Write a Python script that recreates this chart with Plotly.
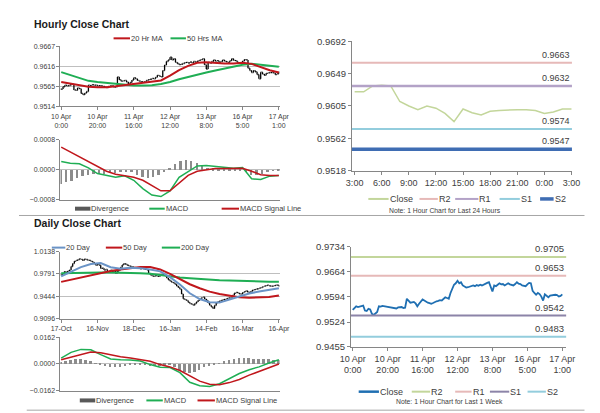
import plotly.graph_objects as go

W, H = 600, 413
FONT = "Liberation Sans, Arial, sans-serif"

# ---- hourly data: 10 Apr 0:00 -> 17 Apr 1:00 (one value per hour) ----
hourly_close = [
    0.9558, 0.9564, 0.9568, 0.9566, 0.9567, 0.9569, 0.9570, 0.9556, 0.9555, 0.9561,
    0.9559, 0.9547, 0.9544, 0.9548, 0.9552, 0.9568, 0.9567, 0.9569, 0.9568, 0.9568,
    0.9566, 0.9567, 0.9566, 0.9565, 0.9563, 0.9562, 0.9565, 0.9566, 0.9566, 0.9563,
    0.9564, 0.9589, 0.9582, 0.9578, 0.9579, 0.9580, 0.9576, 0.9568, 0.9575, 0.9581,
    0.9587, 0.9584, 0.9580, 0.9578, 0.9577, 0.9575, 0.9577, 0.9580, 0.9582, 0.9583,
    0.9585, 0.9584, 0.9588, 0.9593, 0.9591, 0.9589, 0.9605, 0.9619, 0.9628, 0.9632,
    0.9639, 0.9632, 0.9635, 0.9626, 0.9623, 0.9620, 0.9621, 0.9623, 0.9625, 0.9626,
    0.9624, 0.9627, 0.9625, 0.9628, 0.9626, 0.9629, 0.9631, 0.9633, 0.9635, 0.9620,
    0.9609, 0.9626, 0.9624, 0.9628, 0.9632, 0.9629, 0.9630, 0.9626, 0.9628, 0.9632,
    0.9629, 0.9627, 0.9626, 0.9630, 0.9635, 0.9631, 0.9630, 0.9626, 0.9624, 0.9624,
    0.9629, 0.9633, 0.9632, 0.9611, 0.9605, 0.9600, 0.9605, 0.9602, 0.9595, 0.9584,
    0.9601, 0.9596, 0.9593, 0.9598, 0.9599, 0.9600, 0.9600, 0.9599, 0.9595, 0.9597,
    0.9601,
]
hourly_ticks = ["10 Apr<br>0:00", "10 Apr<br>20:00", "11 Apr<br>16:00", "12 Apr<br>12:00",
                "13 Apr<br>8:00", "16 Apr<br>5:00", "17 Apr<br>1:00"]

# moving averages / MACD read every 5 hours
ma20_h = [0.9576, 0.9572, 0.9568, 0.9564, 0.9563, 0.9563, 0.9565, 0.9568, 0.9572, 0.9574,
          0.9577, 0.9580, 0.9592, 0.9606, 0.9617, 0.9625, 0.9626, 0.9624, 0.9623, 0.9623,
          0.9625, 0.9622, 0.9613, 0.9606, 0.9600]
ma50_h = [0.9601, 0.9594, 0.9587, 0.9579, 0.9576, 0.9574, 0.9571, 0.9569, 0.9567, 0.9567,
          0.9568, 0.9571, 0.9576, 0.9583, 0.9589, 0.9595, 0.9600, 0.9605, 0.9610, 0.9615,
          0.9620, 0.9622, 0.9620, 0.9618, 0.9615]
macd_h = [0.00022, 0.00017, 0.00016, 0.00005, -0.00010, -0.00015, -0.00020, -0.00016, -0.00028,
          -0.00050, -0.00067, -0.00071, -0.00056, -0.00020, -0.00006, 0.00010, 0.00011, 0.00008,
          0.00005, 0.00004, 0.00006, -0.00024, -0.00026, -0.00017, -0.00015]
signal_h = [0.00060, 0.00047, 0.00035, 0.00022, 0.00010, -0.00004, -0.00012, -0.00016, -0.00020,
            -0.00028, -0.00043, -0.00056, -0.00056, -0.00036, -0.00015, -0.00004, 0.00000, 0.00003,
            0.00003, 0.00003, 0.00004, -0.00004, -0.00013, -0.00015, -0.00015]
# divergence read every 3 hours
div_h = [-0.00036, -0.00032, -0.00028, -0.00022, -0.00016, -0.00012, -0.00010, -0.00010, -0.00009,
         -0.00008, -0.00008, -0.00006, -0.00004, -0.00006, -0.00012, -0.00018, -0.00020, -0.00018,
         -0.00014, -0.00006, 0.00006, 0.00016, 0.00024, 0.00026, 0.00024, 0.00018, 0.00010,
         0.00006, 0.00005, 0.00004, 0.00003, 0.00001, 0.00001, 0.00002, -0.00006, -0.00014,
         -0.00014, -0.00010, -0.00006, -0.00002, 0.00001]

# ---- last 24 hours ----
hours_24 = ["3:00", "4:00", "5:00", "6:00", "7:00", "8:00", "9:00", "10:00", "11:00", "12:00",
            "13:00", "14:00", "15:00", "16:00", "17:00", "18:00", "19:00", "20:00", "21:00",
            "22:00", "23:00", "0:00", "1:00", "2:00", "3:00"]
close_24 = [0.9624, 0.9624, 0.9632, 0.9633, 0.9632, 0.9611, 0.9605, 0.9600, 0.9605, 0.9602,
            0.9595, 0.9584, 0.9601, 0.9596, 0.9593, 0.9598, 0.9599, 0.9600, 0.9600, 0.9600,
            0.9599, 0.9595, 0.9597, 0.9601, 0.9601]
levels_24 = {"R2": 0.9663, "R1": 0.9632, "S1": 0.9574, "S2": 0.9547}
levels_week = {"R2": 0.9705, "R1": 0.9653, "S1": 0.9542, "S2": 0.9483}

# ---- daily data: 17-Oct -> 16-Apr (trading days) ----
daily_close = [
    0.9776, 0.9790, 0.9826, 0.9810, 0.9835, 0.9850, 0.9905, 0.9950, 0.9985, 0.9999,
    1.0010, 1.0024, 1.0015, 0.9999, 1.0020, 1.0014, 1.0005, 0.9999, 0.9985, 0.9974,
    0.9950, 0.9925, 0.9940, 0.9925, 0.9875, 0.9880, 0.9850, 0.9860, 0.9826, 0.9835,
    0.9850, 0.9820, 0.9840, 0.9801, 0.9830, 0.9850, 0.9890, 0.9930, 0.9950, 0.9940,
    0.9925, 0.9915, 0.9905, 0.9900, 0.9890, 0.9880, 0.9875, 0.9885, 0.9870, 0.9875,
    0.9865, 0.9860, 0.9850, 0.9800, 0.9776, 0.9760, 0.9751, 0.9765, 0.9755, 0.9751,
    0.9770, 0.9780, 0.9776, 0.9760, 0.9727, 0.9700, 0.9677, 0.9660, 0.9652, 0.9630,
    0.9603, 0.9580, 0.9553, 0.9480, 0.9404, 0.9390, 0.9379, 0.9350, 0.9330, 0.9320,
    0.9305, 0.9330, 0.9355, 0.9380, 0.9404, 0.9420, 0.9429, 0.9400, 0.9379, 0.9340,
    0.9305, 0.9280, 0.9255, 0.9300, 0.9340, 0.9360, 0.9370, 0.9379, 0.9390, 0.9395,
    0.9404, 0.9415, 0.9420, 0.9429, 0.9460, 0.9490, 0.9503, 0.9495, 0.9480, 0.9479,
    0.9500, 0.9515, 0.9528, 0.9510, 0.9503, 0.9520, 0.9540, 0.9545, 0.9553, 0.9560,
    0.9570, 0.9578, 0.9590, 0.9600, 0.9610, 0.9617, 0.9605, 0.9600, 0.9602, 0.9610,
    0.9615, 0.9617, 0.9600,
]
daily_ticks = ["17-Oct", "16-Nov", "18-Dec", "16-Jan", "14-Feb", "16-Mar", "16-Apr"]

# read every 6 trading days
ma20_d = [0.9751, 0.9825, 0.9895, 0.9945, 0.9960, 0.9895, 0.9872, 0.9885, 0.9880, 0.9860,
          0.9830, 0.9740, 0.9625, 0.9490, 0.9400, 0.9350, 0.9345, 0.9392, 0.9439, 0.9485,
          0.9518, 0.9545, 0.9568]
ma50_d = [0.9667, 0.9702, 0.9740, 0.9775, 0.9805, 0.9836, 0.9860, 0.9882, 0.9898, 0.9898,
          0.9860, 0.9790, 0.9705, 0.9630, 0.9568, 0.9515, 0.9478, 0.9450, 0.9429, 0.9420,
          0.9422, 0.9432, 0.9454]
ma200_d = [0.9801, 0.9806, 0.9810, 0.9812, 0.9812, 0.9811, 0.9810, 0.9806, 0.9800, 0.9794,
           0.9772, 0.9755, 0.9736, 0.9723, 0.9711, 0.9700, 0.9692, 0.9687, 0.9680, 0.9676,
           0.9672, 0.9669, 0.9667]
macd_d = [0.0035, 0.0070, 0.0088, 0.0086, 0.0056, 0.0030, 0.0025, 0.0024, 0.0018, -0.0004,
          -0.0020, -0.0022, -0.0053, -0.0111, -0.0132, -0.0137, -0.0120, -0.0088, -0.0058,
          -0.0035, -0.0018, 0.0006, 0.0025]
signal_d = [0.0025, 0.0040, 0.0055, 0.0072, 0.0068, 0.0055, 0.0044, 0.0036, 0.0028, 0.0016,
            -0.0004, -0.0018, -0.0040, -0.0072, -0.0104, -0.0123, -0.0126, -0.0113, -0.0094,
            -0.0068, -0.0046, -0.0023, 0.0000]
# divergence read every 3 trading days
div_d = [0.0010, 0.0018, 0.0025, 0.0028, 0.0028, 0.0022, 0.0014, 0.0004, -0.0008, -0.0016,
         -0.0020, -0.0020, -0.0018, -0.0014, -0.0010, -0.0009, -0.0008, -0.0010, -0.0014,
         -0.0016, -0.0012, -0.0008, -0.0010, -0.0022, -0.0036, -0.0048, -0.0056, -0.0050,
         -0.0036, -0.0022, -0.0012, -0.0006, 0.0004, 0.0014, 0.0022, 0.0028, 0.0032, 0.0034,
         0.0033, 0.0030, 0.0028, 0.0027, 0.0026, 0.0025, 0.0024]

# y tick labels
y_hourly = [0.9514, 0.9565, 0.9616, 0.9667]
y_macd_h = [-0.0008, 0.0, 0.0008]
y_24 = [0.9518, 0.95615, 0.9605, 0.96485, 0.9692]
y_24_text = ["0.9518", "0.9562", "0.9605", "0.9649", "0.9692"]
y_daily = [0.9096, 0.9444, 0.9791, 1.0138]
y_macd_d = [-0.0162, 0.0, 0.0162]
y_week = [0.9455, 0.9524, 0.9594, 0.9664, 0.9734]


def px(x):
    return x / W


def py(y):
    return 1 - y / H


h_idx = list(range(len(hourly_close)))
h_idx5 = list(range(0, len(hourly_close), 5))
h_idx3 = list(range(0, len(hourly_close), 3))
d_idx = list(range(len(daily_close)))
d_idx6 = list(range(0, len(daily_close), 6))
d_idx3 = list(range(0, len(daily_close), 3))
idx_24 = list(range(len(close_24)))

RED, GREEN, BLUE_MA = "#C0171C", "#1FAE54", "#6A93C6"

fig = go.Figure()

# hourly candles + MAs
h_open = [hourly_close[0]] + hourly_close[:-1]
fig.add_trace(go.Ohlc(x=h_idx, open=h_open, close=hourly_close,
                      high=[max(o, c) for o, c in zip(h_open, hourly_close)],
                      low=[min(o, c) for o, c in zip(h_open, hourly_close)],
                      increasing_line_color="black", decreasing_line_color="black",
                      line_width=1.3, tickwidth=0.4, xaxis="x", yaxis="y"))
fig.add_trace(go.Scatter(x=h_idx5, y=ma50_h, mode="lines", line=dict(color=GREEN, width=2),
                         xaxis="x", yaxis="y"))
fig.add_trace(go.Scatter(x=h_idx5, y=ma20_h, mode="lines", line=dict(color=RED, width=2),
                         xaxis="x", yaxis="y"))

# hourly MACD
fig.add_trace(go.Bar(x=h_idx3, y=div_h, width=1.3, marker_color="#8C8C8C", marker_line_width=0,
                     xaxis="x2", yaxis="y2"))
fig.add_trace(go.Scatter(x=h_idx5, y=macd_h, mode="lines", line=dict(color=GREEN, width=1.5),
                         xaxis="x2", yaxis="y2"))
fig.add_trace(go.Scatter(x=h_idx5, y=signal_h, mode="lines", line=dict(color=RED, width=1.5),
                         xaxis="x2", yaxis="y2"))

# last 24 hours
fig.add_trace(go.Scatter(x=idx_24, y=close_24, mode="lines", line=dict(color="#C3D69B", width=1.5),
                         xaxis="x3", yaxis="y3"))

# daily candles + MAs
d_open = [daily_close[0]] + daily_close[:-1]
fig.add_trace(go.Ohlc(x=d_idx, open=d_open, close=daily_close,
                      high=[max(o, c) for o, c in zip(d_open, daily_close)],
                      low=[min(o, c) for o, c in zip(d_open, daily_close)],
                      increasing_line_color="black", decreasing_line_color="black",
                      line_width=1.3, tickwidth=0.4, xaxis="x4", yaxis="y4"))
fig.add_trace(go.Scatter(x=d_idx6, y=ma200_d, mode="lines", line=dict(color=GREEN, width=2),
                         xaxis="x4", yaxis="y4"))
fig.add_trace(go.Scatter(x=d_idx6, y=ma50_d, mode="lines", line=dict(color=RED, width=2),
                         xaxis="x4", yaxis="y4"))
fig.add_trace(go.Scatter(x=d_idx6, y=ma20_d, mode="lines", line=dict(color=BLUE_MA, width=2),
                         xaxis="x4", yaxis="y4"))

# daily MACD
fig.add_trace(go.Bar(x=d_idx3, y=div_d, width=1.5, marker_color="#8C8C8C", marker_line_width=0,
                     xaxis="x5", yaxis="y5"))
fig.add_trace(go.Scatter(x=d_idx6, y=macd_d, mode="lines", line=dict(color=GREEN, width=1.5),
                         xaxis="x5", yaxis="y5"))
fig.add_trace(go.Scatter(x=d_idx6, y=signal_d, mode="lines", line=dict(color=RED, width=1.5),
                         xaxis="x5", yaxis="y5"))

# last week hourly close
fig.add_trace(go.Scatter(x=h_idx, y=hourly_close, mode="lines", line=dict(color="#1F6FB2", width=1.8),
                         xaxis="x6", yaxis="y6"))

shapes, annotations = [], []

# support / resistance lines
col_24 = {"R2": "#E6B9B8", "R1": "#B3A2C7", "S1": "#93CDDD", "S2": "#3F6DB3"}
wid_24 = {"R2": 2, "R1": 2.5, "S1": 2, "S2": 3.5}
for k, v in levels_24.items():
    shapes.append(dict(type="line", xref="x3 domain", yref="y3", x0=0, x1=1, y0=v, y1=v,
                       line=dict(color=col_24[k], width=wid_24[k])))
    annotations.append(dict(xref="x3 domain", yref="y3", x=1, y=v, text=f"{v:.4f}", showarrow=False,
                            xanchor="right", yanchor="bottom", yshift=1,
                            font=dict(size=9, color="#404040")))
col_w = {"R2": "#C3D69B", "R1": "#E6B9B8", "S1": "#8C84A8", "S2": "#93CDDD"}
for k, v in levels_week.items():
    shapes.append(dict(type="line", xref="x6 domain", yref="y6", x0=0, x1=1, y0=v, y1=v,
                       line=dict(color=col_w[k], width=2)))
    annotations.append(dict(xref="x6 domain", yref="y6", x=1, y=v, text=f"{v:.4f}", showarrow=False,
                            xanchor="right", yanchor="bottom", yshift=1,
                            font=dict(size=9.5, color="#404040")))


def legend_item(x0, x1, y, color, label, width=2, size=7.5):
    shapes.append(dict(type="line", xref="paper", yref="paper", x0=px(x0), x1=px(x1),
                       y0=py(y), y1=py(y), line=dict(color=color, width=width)))
    annotations.append(dict(xref="paper", yref="paper", x=px(x1), y=py(y), text=label,
                            showarrow=False, xanchor="left", yanchor="middle", xshift=-1,
                            font=dict(size=size, color="#404040")))


def text(x, y, s, size, anchor="left", bold=False, color="#404040"):
    annotations.append(dict(xref="paper", yref="paper", x=px(x), y=py(y),
                            text=f"<b>{s}</b>" if bold else s, showarrow=False,
                            xanchor=anchor, yanchor="middle", font=dict(size=size, color=color)))


text(13, 10, "Hourly Close Chart", 10.5, bold=True, color="#1a1a1a")
text(13, 215, "Daily Close Chart", 10.5, bold=True, color="#1a1a1a")

legend_item(98, 115, 25, RED, "20 Hr MA")
legend_item(157, 173, 25, GREEN, "50 Hrs MA")

legend_item(58, 74, 200, "#595959", "Divergence", width=4)
legend_item(135, 151, 200, GREEN, "MACD")
legend_item(210, 228, 200, RED, "MACD Signal Line")

legend_item(362, 383, 190, "#C3D69B", "Close", size=9)
legend_item(415, 434, 190, col_24["R2"], "R2", size=9)
legend_item(452, 476, 190, col_24["R1"], "R1", size=9)
legend_item(498, 519, 190, col_24["S1"], "S1", size=9)
legend_item(540, 554, 190, col_24["S2"], "S2", width=3.5, size=9)
text(441, 202, "Note: 1 Hour Chart for Last 24 Hours", 6.8, anchor="center")

legend_item(34, 48, 240, BLUE_MA, "20 Day")
legend_item(90, 107, 240, RED, "50 Day")
legend_item(148, 167, 240, GREEN, "200 Day")

legend_item(63, 79, 397, "#595959", "Divergence", width=4)
legend_item(132, 149, 397, GREEN, "MACD")
legend_item(185, 203, 397, RED, "MACD Signal Line")

legend_item(352, 373, 388, "#1F6FB2", "Close", width=2.5, size=9)
legend_item(407, 426, 388, col_w["R2"], "R2", size=9)
legend_item(452, 469, 388, col_w["R1"], "R1", size=9)
legend_item(488, 508, 388, col_w["S1"], "S1", size=9)
legend_item(527, 546, 388, col_w["S2"], "S2", size=9)
text(446, 398, "Note: 1 Hour Chart for Last 1 Week", 6.8, anchor="center")

# section separators
for yy, xa, xb in [(207, 0, 586), (407, 8, 586)]:
    shapes.append(dict(type="line", xref="paper", yref="paper", x0=px(xa), x1=px(xb),
                       y0=py(yy), y1=py(yy), line=dict(color="#A6A6A6", width=1)))

AX = "#868686"


def yax(dom, vals, texts=None, size=7, fmt=".4f", grid=True, rng=None):
    return dict(domain=[py(dom[1]), py(dom[0])], range=rng or [vals[0], vals[-1]],
                tickvals=vals, ticktext=texts, tickformat=fmt, showline=True, linecolor=AX,
                ticks="outside", ticklen=3, tickcolor=AX, showgrid=grid, gridcolor="#BFBFBF",
                zeroline=False, tickfont=dict(size=size, color="#404040"), fixedrange=True)


def xax(dom, rng, vals=None, texts=None, size=7, labels=True, ticks="outside"):
    return dict(domain=[px(dom[0]), px(dom[1])], range=rng, tickvals=vals, ticktext=texts,
                showticklabels=labels, showline=True, linecolor=AX, ticks=ticks, ticklen=3,
                tickcolor=AX, showgrid=False, zeroline=False, tickangle=0,
                tickfont=dict(size=size, color="#404040"), rangeslider=dict(visible=False))


h_tickpos = list(range(0, len(hourly_close), 20))
d_tickpos = list(range(0, len(daily_close), 22))
t24_pos = list(range(0, len(close_24), 3))

fig.update_layout(
    width=W, height=H, margin=dict(l=0, r=0, t=0, b=0),
    paper_bgcolor="white", plot_bgcolor="white", showlegend=False, bargap=0,
    font=dict(family=FONT, color="#404040"),
    xaxis=xax((43, 270), [-0.4, 120.4], h_tickpos, hourly_ticks),
    yaxis=dict(yax((33, 95), y_hourly), anchor="x"),
    xaxis2=xax((43, 270), [-0.4, 120.4], labels=False, ticks=""),
    yaxis2=dict(yax((129, 191), y_macd_h), anchor="x2"),
    xaxis3=dict(xax((345, 573), [-0.3, 24.05], t24_pos, [hours_24[i] for i in t24_pos], size=9),
                anchor="y3"),
    yaxis3=dict(yax((28, 161), y_24, y_24_text, size=9.5, grid=False), anchor="x3"),
    xaxis4=dict(xax((43, 270), [-0.4, 132.4], d_tickpos, daily_ticks), anchor="y4"),
    yaxis4=dict(yax((244, 313), y_daily), anchor="x4"),
    xaxis5=dict(xax((43, 270), [-0.4, 132.4], labels=False, ticks=""), anchor="y5"),
    yaxis5=dict(yax((332, 387), y_macd_d), anchor="x5"),
    xaxis6=dict(xax((344, 567), [-1.0, 122.2], h_tickpos, hourly_ticks, size=9), anchor="y6"),
    yaxis6=dict(yax((239, 342), y_week, size=9.5, grid=False), anchor="x6"),
    shapes=shapes, annotations=annotations,
)
fig.update_layout(xaxis2_anchor="y2", xaxis_anchor="y")
fig.update_traces(hoverinfo="skip", selector=dict(type="scatter"))

fig.write_html("out.html")
